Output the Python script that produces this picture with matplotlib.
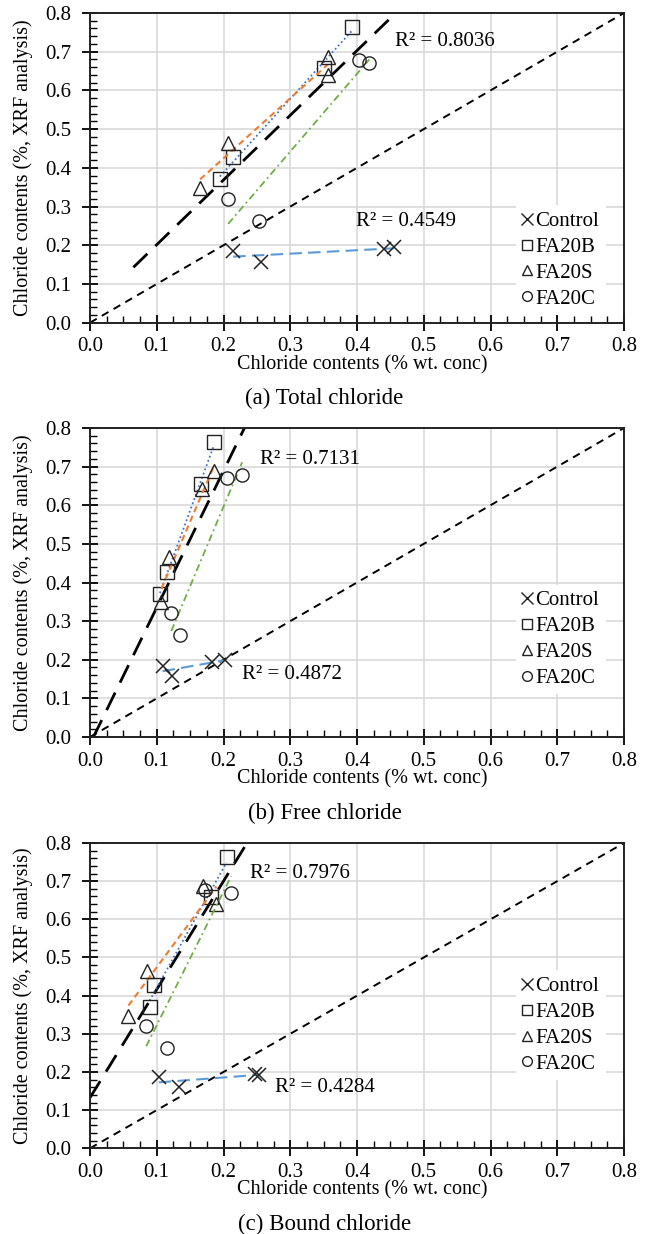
import numpy as np
import matplotlib
matplotlib.use("Agg")
import matplotlib.pyplot as plt
from matplotlib.lines import Line2D
from matplotlib.ticker import MultipleLocator

plt.rcParams['font.family'] = ['Liberation Serif', 'DejaVu Serif']
plt.rcParams['font.size'] = 14.5

series = ["Control", "FA20B", "FA20S", "FA20C"]
panels = ["(a) Total chloride", "(b) Free chloride", "(c) Bound chloride"]

# x: chloride (% wt. conc), y: XRF, per panel, per series
x_total = {
    "Control": [0.2145, 0.256, 0.440, 0.455],
    "FA20B": [0.392, 0.350, 0.2146, 0.1945],
    "FA20S": [0.356, 0.356, 0.207, 0.165],
    "FA20C": [0.4025, 0.4185, 0.207, 0.253],
}
x_free = {
    "Control": [0.1087, 0.1223, 0.1835, 0.202],
    "FA20B": [0.186, 0.167, 0.1153, 0.1048],
    "FA20S": [0.186, 0.168, 0.118, 0.107],
    "FA20C": [0.2055, 0.228, 0.1218, 0.1349],
}
x_bound = {
    "Control": [0.103, 0.134, 0.247, 0.253],
    "FA20B": [0.2045, 0.182, 0.0962, 0.0892],
    "FA20S": [0.1689, 0.1895, 0.0857, 0.0576],
    "FA20C": [0.173, 0.2115, 0.0842, 0.1148],
}
y_total = {
    "Control": [0.185, 0.157, 0.191, 0.195],
    "FA20B": [0.765, 0.657, 0.428, 0.370],
    "FA20S": [0.687, 0.640, 0.464, 0.348],
    "FA20C": [0.679, 0.670, 0.320, 0.262],
}
y_free = {
    "Control": [0.184, 0.158, 0.195, 0.1995],
    "FA20B": [0.765, 0.655, 0.428, 0.370],
    "FA20S": [0.689, 0.642, 0.4655, 0.349],
    "FA20C": [0.670, 0.679, 0.320, 0.264],
}
y_bound = {
    "Control": [0.186, 0.160, 0.196, 0.192],
    "FA20B": [0.763, 0.659, 0.429, 0.371],
    "FA20S": [0.687, 0.639, 0.465, 0.347],
    "FA20C": [0.678, 0.670, 0.321, 0.264],
}
xs = [x_total, x_free, x_bound]
ys = [y_total, y_free, y_bound]

r2_all = ["R² = 0.8036", "R² = 0.7131", "R² = 0.7976"]
r2_ctrl = ["R² = 0.4549", "R² = 0.4872", "R² = 0.4284"]
r2_all_pos = [(0.457, 0.727), (0.255, 0.718), (0.240, 0.721)]
r2_ctrl_pos = [(0.399, 0.261), (0.228, 0.161), (0.277, 0.160)]
legend_y = [-0.008, 0.105, 0.19]

markers = {"Control": "x", "FA20B": "s", "FA20S": "^", "FA20C": "o"}
trend_style = {
    "Control": dict(color="#5b9bd5", ls=(0, (6, 3)), lw=1.5),
    "FA20B": dict(color="#4472c4", ls=(0, (1, 1.5)), lw=1.3),
    "FA20S": dict(color="#ed7d31", ls=(0, (3, 2)), lw=1.5),
    "FA20C": dict(color="#70ad47", ls=(0, (4, 2, 1, 2)), lw=1.3),
}

fig = plt.figure(figsize=(6.49, 12.34), dpi=100)
H = 1234.0
boxes = [(13, 322.7), (428, 737), (843, 1148.3)]
for k in range(3):
    top, bot = boxes[k]
    ax = fig.add_axes([90 / 649, (H - bot) / H, 534 / 649, (bot - top) / H])
    ax.set_xlim(0, 0.8)
    ax.set_ylim(0, 0.8)
    ax.xaxis.set_major_locator(MultipleLocator(0.1))
    ax.yaxis.set_major_locator(MultipleLocator(0.1))
    ax.xaxis.set_minor_locator(MultipleLocator(0.025))
    ax.yaxis.set_minor_locator(MultipleLocator(0.02))
    ax.xaxis.set_major_formatter(plt.FormatStrFormatter('%.1f'))
    ax.yaxis.set_major_formatter(plt.FormatStrFormatter('%.1f'))
    ax.tick_params(which='major', direction='inout', length=11, width=1.3, pad=5,
                   labelsize=15)
    ax.tick_params(which='minor', direction='in', length=5, width=1.0)
    ax.tick_params(axis='y', which='major', pad=8)
    for s in ax.spines.values():
        s.set_linewidth(1.4)
        s.set_color("#222222")
    ax.grid(True, which='major', color="#d9d9d9", lw=1.2)
    ax.set_axisbelow(True)

    # 1:1 line
    ax.plot([0, 0.8], [0, 0.8], color="black", lw=1.4, ls=(0, (4, 3)))

    # overall fit on FA20 mixes
    ax_x = np.concatenate([xs[k][s] for s in series[1:]])
    ax_y = np.concatenate([ys[k][s] for s in series[1:]])
    b, a = np.polyfit(ax_x, ax_y, 1)
    xx = np.linspace(max(ax_x.min() - 0.1, 0), ax_x.max() + 0.03, 50)
    ax.plot(xx, b * xx + a, color="black", lw=2.0, ls=(0, (7, 4)))

    for s in series:
        x = np.array(xs[k][s])
        y = np.array(ys[k][s])
        bb, aa = np.polyfit(x, y, 1)
        xl = np.array([x.min(), x.max()])
        ax.plot(xl, bb * xl + aa, **trend_style[s])
        if s == "Control":
            ax.plot(x, y, ls='none', marker='x', ms=10, mew=1.1, color="#222222")
        else:
            ax.plot(x, y, ls='none', marker=markers[s], ms=9.5, mew=1.0,
                    mfc='none', mec="#222222")

    ax.text(*r2_all_pos[k], r2_all[k], ha='left', va='center', fontsize=15)
    ax.text(*r2_ctrl_pos[k], r2_ctrl[k], ha='left', va='center', fontsize=15)

    handles = []
    for s in series:
        if s == "Control":
            handles.append(Line2D([], [], ls='none', marker='x', ms=8, mew=1.0, color="#222222"))
        else:
            handles.append(Line2D([], [], ls='none', marker=markers[s], ms=7, mew=1.0,
                                  mfc='none', mec="#222222"))
    leg = ax.legend(handles, series, loc='lower right', bbox_to_anchor=(0.985, legend_y[k]),
                    frameon=True, facecolor='white', edgecolor='none', framealpha=1,
                    handlelength=0.5, handletextpad=0.15, labelspacing=0.3,
                    borderpad=0.3, fancybox=False, fontsize=15)

    ax.set_xlabel("Chloride contents (% wt. conc)")
    ax.xaxis.label.set_va('center')
    ax.xaxis.set_label_coords(0.51, -42 / (bot - top))
    ax.set_ylabel("Chloride contents (%, XRF analysis)")
    ax.yaxis.label.set_va('center')
    ax.yaxis.set_label_coords(-67 / 534, 0.5)

    fig.text(0.5, (H - (bot + 76)) / H, panels[k], ha='center', va='center', fontsize=16.5)

fig.savefig("out.png", dpi=100)
